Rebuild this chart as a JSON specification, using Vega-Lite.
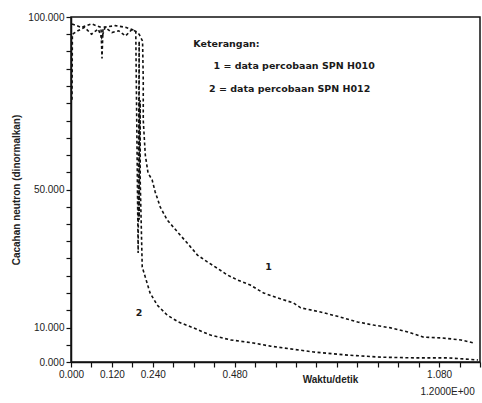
{
  "$schema": "https://vega.github.io/schema/vega-lite/v6.json",
  "width": 409,
  "height": 345,
  "autosize": {"type": "none"},
  "padding": {"left": 71, "top": 17, "right": 2, "bottom": 41},
  "background": "white",
  "config": {
    "view": {"stroke": "#111", "strokeWidth": 1.5},
    "font": "Liberation Sans",
    "axis": {"domainColor": "#111", "domainWidth": 1.5, "tickColor": "#111", "tickWidth": 1.2, "labelColor": "#222", "labelFontSize": 10, "grid": false}
  },
  "datasets": {
    "curves": [
      {"s": "1", "x": 0.003, "y": 76}, {"s": "1", "x": 0.004, "y": 95}, {"s": "1", "x": 0.02, "y": 96}, {"s": "1", "x": 0.04, "y": 97}, {"s": "1", "x": 0.06, "y": 95}, {"s": "1", "x": 0.08, "y": 96.5}, {"s": "1", "x": 0.09, "y": 94}, {"s": "1", "x": 0.1, "y": 97}, {"s": "1", "x": 0.12, "y": 95.5}, {"s": "1", "x": 0.14, "y": 96}, {"s": "1", "x": 0.16, "y": 94.5}, {"s": "1", "x": 0.18, "y": 96.5}, {"s": "1", "x": 0.2, "y": 95}, {"s": "1", "x": 0.21, "y": 93},
      {"s": "1", "x": 0.212, "y": 81.7}, {"s": "1", "x": 0.212, "y": 70.1}, {"s": "1", "x": 0.218, "y": 60.0}, {"s": "1", "x": 0.226, "y": 54.8}, {"s": "1", "x": 0.238, "y": 52.8}, {"s": "1", "x": 0.247, "y": 49.3}, {"s": "1", "x": 0.262, "y": 44.9}, {"s": "1", "x": 0.282, "y": 41.2}, {"s": "1", "x": 0.315, "y": 37.4}, {"s": "1", "x": 0.341, "y": 34.5}, {"s": "1", "x": 0.371, "y": 31.0}, {"s": "1", "x": 0.4, "y": 29.0}, {"s": "1", "x": 0.429, "y": 27.2}, {"s": "1", "x": 0.459, "y": 25.2}, {"s": "1", "x": 0.488, "y": 23.8}, {"s": "1", "x": 0.526, "y": 22.3}, {"s": "1", "x": 0.565, "y": 20.0}, {"s": "1", "x": 0.606, "y": 18.6}, {"s": "1", "x": 0.653, "y": 17.1}, {"s": "1", "x": 0.674, "y": 15.7}, {"s": "1", "x": 0.732, "y": 14.5}, {"s": "1", "x": 0.791, "y": 13.0}, {"s": "1", "x": 0.841, "y": 11.6}, {"s": "1", "x": 0.888, "y": 10.7}, {"s": "1", "x": 0.938, "y": 9.9}, {"s": "1", "x": 0.988, "y": 8.7}, {"s": "1", "x": 1.035, "y": 7.2}, {"s": "1", "x": 1.085, "y": 7.0}, {"s": "1", "x": 1.144, "y": 6.4}, {"s": "1", "x": 1.182, "y": 5.5},
      {"s": "2", "x": 0.003, "y": 98}, {"s": "2", "x": 0.03, "y": 97}, {"s": "2", "x": 0.06, "y": 98}, {"s": "2", "x": 0.088, "y": 97}, {"s": "2", "x": 0.091, "y": 88}, {"s": "2", "x": 0.094, "y": 97}, {"s": "2", "x": 0.13, "y": 97.5}, {"s": "2", "x": 0.16, "y": 97}, {"s": "2", "x": 0.19, "y": 96}, {"s": "2", "x": 0.2, "y": 93},
      {"s": "2", "x": 0.203, "y": 75.9}, {"s": "2", "x": 0.203, "y": 52.8}, {"s": "2", "x": 0.2, "y": 41.2}, {"s": "2", "x": 0.197, "y": 31.6}, {"s": "2", "x": 0.209, "y": 27.5}, {"s": "2", "x": 0.218, "y": 24.6}, {"s": "2", "x": 0.232, "y": 20.0}, {"s": "2", "x": 0.253, "y": 16.5}, {"s": "2", "x": 0.282, "y": 13.6}, {"s": "2", "x": 0.315, "y": 11.6}, {"s": "2", "x": 0.359, "y": 9.9}, {"s": "2", "x": 0.409, "y": 7.8}, {"s": "2", "x": 0.468, "y": 6.4}, {"s": "2", "x": 0.535, "y": 5.5}, {"s": "2", "x": 0.585, "y": 4.6}, {"s": "2", "x": 0.644, "y": 3.8}, {"s": "2", "x": 0.712, "y": 2.9}, {"s": "2", "x": 0.812, "y": 2.0}, {"s": "2", "x": 0.909, "y": 1.4}, {"s": "2", "x": 1.006, "y": 1.2}, {"s": "2", "x": 1.106, "y": 1.2}, {"s": "2", "x": 1.194, "y": 0.6}
    ],
    "notes": [
      {"x": 0.359, "y": 92.2, "t": "Keterangan:"},
      {"x": 0.418, "y": 85.8, "t": "1 = data percobaan SPN H010"},
      {"x": 0.405, "y": 79.1, "t": "2 = data percobaan SPN H012"},
      {"x": 0.57, "y": 27.5, "t": "1"},
      {"x": 0.19, "y": 14.2, "t": "2"}
    ],
    "mult": [
      {"x": 1.105, "y": -8.7, "t": "1.2000E+00"}
    ]
  },
  "layer": [
    {
      "data": {"name": "curves"},
      "mark": {"type": "line", "color": "#111", "strokeWidth": 1.6, "strokeDash": [3, 2.5], "interpolate": "linear"},
      "encoding": {
        "x": {"field": "x", "type": "quantitative", "scale": {"domain": [0, 1.2], "nice": false},
          "axis": {"orient": "bottom", "values": [0, 0.06, 0.12, 0.18, 0.24, 0.3, 0.36, 0.42, 0.48, 0.54, 0.6, 0.66, 0.72, 0.78, 0.84, 0.9, 0.96, 1.02, 1.08, 1.14, 1.2],
            "labelExpr": "indexof(['0.000','0.120','0.240','0.480','1.080'], format(datum.value,'.3f')) >= 0 ? format(datum.value,'.3f') : ''",
            "tickSize": 5, "labelPadding": 2, "labelFlush": false, "labelOverlap": false,
            "title": "Waktu/detik", "titleFontSize": 10, "titleFontWeight": "bold", "titleColor": "#222", "titleX": 259, "titleY": 17, "titleAlign": "center", "titleBaseline": "middle"}},
        "y": {"field": "y", "type": "quantitative", "scale": {"domain": [0, 100], "nice": false},
          "axis": {"values": [0, 5, 10, 15, 20, 25, 30, 35, 40, 45, 50, 55, 60, 65, 70, 75, 80, 85, 90, 95, 100],
            "labelExpr": "(datum.value == 0 || datum.value == 10 || datum.value == 50 || datum.value == 100) ? format(datum.value,'.3f') : ''",
            "tickSize": 5, "labelPadding": 2, "labelOverlap": false, "labelFlush": false,
            "title": "Cacahan neutron (dinormalkan)", "titleFontSize": 10, "titleFontWeight": "bold", "titleColor": "#222", "titlePadding": 6}},
        "detail": {"field": "s", "type": "nominal"}
      }
    },
    {
      "data": {"name": "notes"},
      "mark": {"type": "text", "align": "left", "baseline": "middle", "fontSize": 9.5, "fontWeight": "bold", "color": "#1a1a1a", "font": "DejaVu Sans"},
      "encoding": {
        "x": {"field": "x", "type": "quantitative", "axis": null},
        "y": {"field": "y", "type": "quantitative", "axis": null},
        "text": {"field": "t"}
      }
    },
    {
      "data": {"name": "mult"},
      "mark": {"type": "text", "align": "center", "baseline": "middle", "fontSize": 10, "color": "#222"},
      "encoding": {
        "x": {"field": "x", "type": "quantitative", "axis": null},
        "y": {"field": "y", "type": "quantitative", "axis": null},
        "text": {"field": "t"}
      }
    }
  ],
  "resolve": {"axis": {"x": "independent", "y": "independent"}}
}
